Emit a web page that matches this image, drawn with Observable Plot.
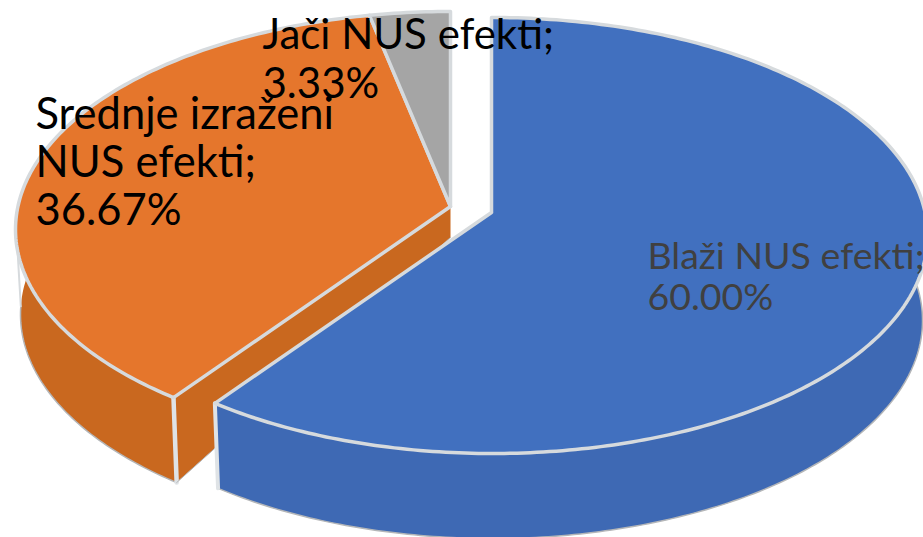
<!DOCTYPE html>
<html><head><meta charset="utf-8">
<script src="https://cdn.jsdelivr.net/npm/d3@7"></script>
<script src="https://cdn.jsdelivr.net/npm/@observablehq/plot@0.6"></script>
<style>html,body{margin:0;padding:0;background:#fff;overflow:hidden}svg{display:block}</style>
</head><body><div id="chart"></div>
<script>
const categories = ["Blaži NUS efekti;", "Srednje izraženi\nNUS efekti;", "Jači NUS efekti;"];
const shares = [60.00, 36.67, 3.33];
const topColors = ["#4170bf", "#e5762c", "#a5a5a5"];
const wallColors = ["#3e69b4", "#c9681f", "#8f8f8f"];
const textColors = ["#404040", "#000000", "#000000"];
const labelX = [647, 35, 262];
const labelY = [239, 94, 14];
const labelSize = [37.5, 43.5, 42];
const labelLead = [41, 48, 49];

// Projection of the tilted, exploded pie on to the picture (data units are pixels)
const RX = 435, RY = 218, BRX = 430;
const groups = [
  {cx: 492, cy: 235, ax: 491, ay: 212},   // exploded slice
  {cx: 450, cy: 229, ax: 450, ay: 206}    // the other two slices
];
const depth = 85, apexDepth = 31;
const TAU = 2 * Math.PI;

// Rim parameter of the pie angle th (clockwise from 12 o'clock)
function rimPhi(g, th) {
  const dx = Math.sin(th) * RX, dy = -Math.cos(th) * RY;
  const ox = (g.ax - g.cx) / RX, oy = (g.ay - g.cy) / RY;
  const a = (dx / RX) ** 2 + (dy / RY) ** 2;
  const b = 2 * (ox * dx / RX + oy * dy / RY);
  const c = ox * ox + oy * oy - 1;
  const t = (-b + Math.sqrt(b * b - 4 * a * c)) / (2 * a);
  const px = ox + t * dx / RX, py = oy + t * dy / RY;
  return (Math.atan2(px, -py) + TAU) % TAU;
}
const rimTop = (g, phi) => ({x: g.cx + RX * Math.sin(phi), y: g.cy - RY * Math.cos(phi)});
const rimBottom = (g, phi) => ({x: g.cx + BRX * Math.sin(phi), y: g.cy + depth - RY * Math.cos(phi)});
function arc(f, g, a, b) {
  const n = Math.max(2, Math.ceil(Math.abs(b - a) / 0.015));
  return d3.range(n + 1).map(i => f(g, a + (b - a) * i / n));
}
const cum = d3.cumsum(shares);
const total = cum[cum.length - 1];
const ang = i => ({a: (i ? cum[i - 1] : 0) / total * TAU, b: cum[i] / total * TAU});
function unwrap(a, b) { while (b < a) b += TAU; return b; }

const poly = (pts, options) => Plot.line(pts, {x: "x", y: "y", curve: "linear", strokeLinejoin: "round", strokeLinecap: "round", ...options});

const rimLight = "#d6dadd", edgeGrey = "#b4b6b8";
const marks = [];

// orange: outer wall, cut wall, top
{
  const g = groups[1], {a, b} = ang(1);
  const pa = rimPhi(g, a);
  const wall = [...arc(rimTop, g, pa, 4.9), ...arc(rimBottom, g, 4.9, pa)];
  marks.push(poly([...wall, wall[0]], {fill: wallColors[1]}));
  marks.push(poly(arc(rimBottom, g, pa, 4.75), {stroke: edgeGrey, strokeWidth: 1.5}));
  marks.push(poly([rimTop(g, 4.75), rimBottom(g, 4.75)], {stroke: rimLight, strokeWidth: 2}));
  const apex = {x: g.ax, y: g.ay}, apexB = {x: g.ax, y: g.ay + apexDepth};
  const cut = [apex, rimTop(g, pa), rimBottom(g, pa), apexB, apex];
  marks.push(poly(cut, {fill: wallColors[1]}));
  marks.push(poly([rimTop(g, pa), rimBottom(g, pa)], {stroke: "#dfe3e6", strokeWidth: 4.5}));
  marks.push(poly([apexB, rimBottom(g, pa)], {stroke: edgeGrey, strokeWidth: 1}));
  const pb = unwrap(pa, rimPhi(g, b));
  const top = [apex, ...arc(rimTop, g, pa, pb), apex];
  marks.push(poly(top, {fill: topColors[1], stroke: rimLight, strokeWidth: 3.5}));
}
// grey: top only
{
  const g = groups[1], {a, b} = ang(2);
  const pa = rimPhi(g, a), pb = unwrap(pa, rimPhi(g, b - 1e-6));
  const apex = {x: g.ax, y: g.ay};
  marks.push(poly([apex, ...arc(rimTop, g, pa, pb), apex], {fill: topColors[2], stroke: rimLight, strokeWidth: 3.5}));
}
// blue: wall and top
{
  const g = groups[0], {a, b} = ang(0);
  let pa = rimPhi(g, a + 1e-6);
  if (pa > Math.PI) pa -= TAU;
  const pb = unwrap(pa, rimPhi(g, b));
  const wall = [...arc(rimTop, g, 1.2, pb), ...arc(rimBottom, g, pb, 1.2)];
  marks.push(poly([...wall, wall[0]], {fill: wallColors[0]}));
  marks.push(poly(arc(rimBottom, g, 1.2, pb), {stroke: edgeGrey, strokeWidth: 1.5}));
  marks.push(poly([rimTop(g, pb), rimBottom(g, pb)], {stroke: "#dfe3e6", strokeWidth: 4}));
  const apex = {x: g.ax, y: g.ay};
  marks.push(poly([apex, ...arc(rimTop, g, pa, pb), apex], {fill: topColors[0], stroke: rimLight, strokeWidth: 3.5}));
}

// labels
const labels = categories.map((c, i) => ({text: `${c}\n${shares[i].toFixed(2)}%`, x: labelX[i], y: labelY[i], size: labelSize[i], lead: labelLead[i], color: textColors[i]}));
for (const l of [labels[1], labels[2], labels[0]]) {
  marks.push(Plot.text([l], {x: "x", y: "y", text: "text", textAnchor: "start", lineAnchor: "top",
    fontSize: l.size, lineHeight: l.lead / l.size, fill: l.color, fontFamily: "Lato, 'Open Sans', sans-serif"}));
}

const chart = Plot.plot({
  width: 923, height: 537, margin: 0,
  x: {domain: [0, 923], range: [0, 923], axis: null},
  y: {domain: [0, 537], range: [0, 537], axis: null},
  style: {background: "#fff", overflow: "hidden"},
  marks
});
document.getElementById("chart").append(chart);
</script></body></html>
